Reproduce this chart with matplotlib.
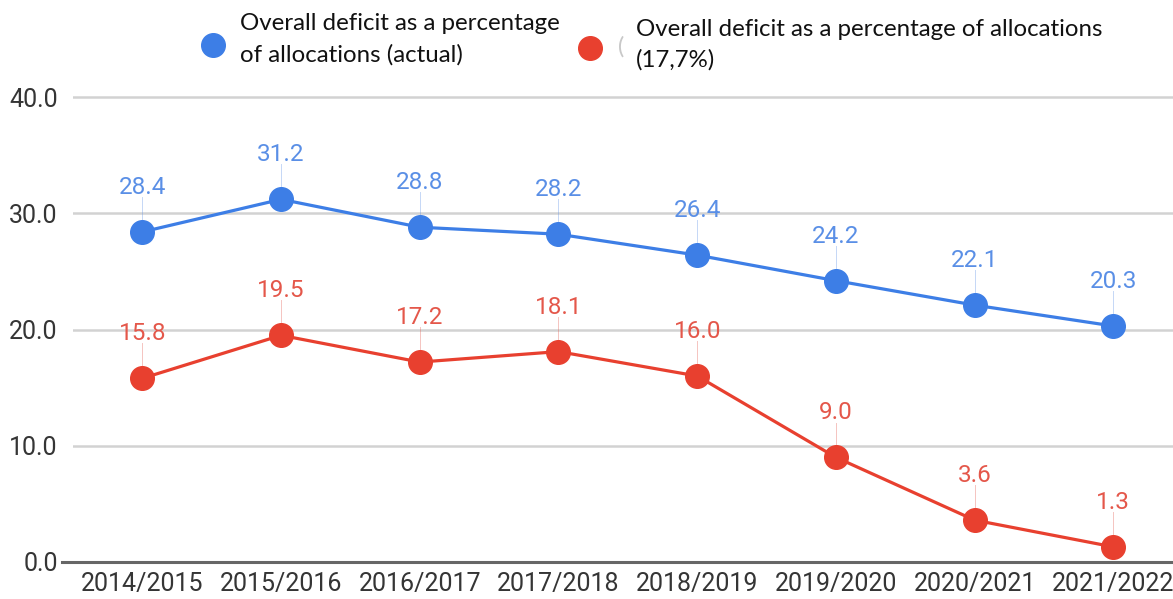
import matplotlib.pyplot as plt
from matplotlib.lines import Line2D

years = ['2014/2015', '2015/2016', '2016/2017', '2017/2018',
         '2018/2019', '2019/2020', '2020/2021', '2021/2022']
actual = [28.4, 31.2, 28.8, 28.2, 26.4, 24.2, 22.1, 20.3]
allocated = [15.8, 19.5, 17.2, 18.1, 16.0, 9.0, 3.6, 1.3]
yticks = [0, 10, 20, 30, 40]

blue, blue_txt = '#3d7ee6', '#5a8fe6'
red, red_txt = '#e8402f', '#e4574a'

W, H = 1173, 599
fig = plt.figure(figsize=(W / 100, H / 100), dpi=100)
ax = fig.add_axes([73 / W, 31.2 / H, 1 - 73 / W, 494 / H])

x = list(range(len(years)))
for vals, c, tc in [(actual, blue, blue_txt), (allocated, red, red_txt)]:
    ax.plot(x, vals, color=c, lw=2.3, marker='o', markersize=17, zorder=3)
    for xi, v in zip(x, vals):
        ax.plot([xi, xi], [v + 1.05, v + 3.0], color=tc, lw=0.7, alpha=0.35, zorder=2)
        ax.annotate(f'{v:.1f}', (xi, v), xytext=(0, 32), textcoords='offset points',
                    ha='center', va='center', color=tc, fontsize=17.5, family='Roboto')

ax.set_xlim(-0.5, 7.43)
ax.set_ylim(-0.5, 42)
ax.set_yticks(yticks)
ax.set_yticklabels([f'{t:.1f}' for t in yticks])
ax.set_xticks(x)
ax.set_xticklabels(years)
for lab in ax.get_xticklabels() + ax.get_yticklabels():
    lab.set_family('Roboto')
    lab.set_fontsize(18)
    lab.set_color('#353535')
ax.tick_params(length=0)
ax.tick_params(axis='x', pad=3)
ax.tick_params(axis='y', pad=11)

for t in yticks[1:]:
    ax.axhline(t, color='#d2d2d2', lw=1.8, zorder=1)
ax.axhline(0, xmin=-0.01, color='#666666', lw=2.2, zorder=1, clip_on=False)
for s in ax.spines.values():
    s.set_visible(False)

# legend drawn by hand along the top
def px(xp, yp):
    return xp / W, 1 - yp / H

fig.add_artist(Line2D(*zip(px(213, 45)), marker='o', markersize=17, color=blue,
                      transform=fig.transFigure))
fig.add_artist(Line2D(*zip(px(590, 48)), marker='o', markersize=17, color=red,
                      transform=fig.transFigure))
leg = dict(family='Lato', fontsize=17.3, color='#111111', va='center', ha='left')
fig.text(*px(240, 24), 'Overall deficit as a percentage', **leg)
fig.text(*px(240, 55), 'of allocations (actual)', **leg)
fig.text(*px(618, 47), '(', family='Lato', fontsize=17, color='#c8c8c8', va='center')
fig.text(*px(636, 29), 'Overall deficit as a percentage of allocations', **leg)
fig.text(*px(636, 60), '(17,7%)', **leg)

fig.savefig('out.png', dpi=100, facecolor='white')
